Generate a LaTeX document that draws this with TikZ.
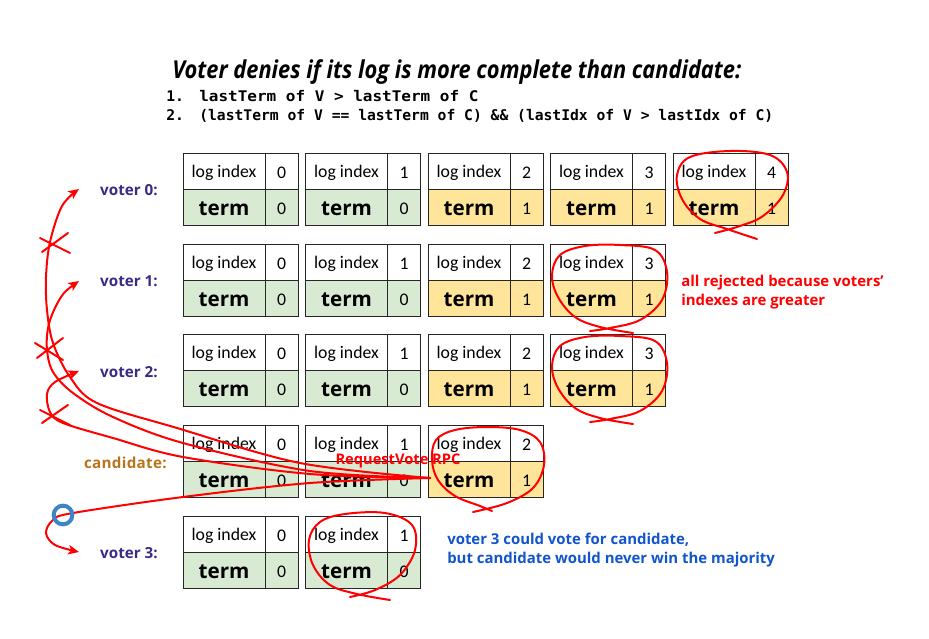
\documentclass[tikz,border=0pt]{standalone}
\usepackage{fontspec}
\setmainfont{Open Sans}
\newfontfamily\calib{Carlito}
\newfontfamily\monof{DejaVu Sans Mono}
\usetikzlibrary{arrows.meta}
\definecolor{tgreen}{HTML}{D9EAD3}
\definecolor{tyellow}{HTML}{FFE599}
\definecolor{vpurple}{HTML}{3B2A85}
\definecolor{corange}{HTML}{B8741A}
\definecolor{nblue}{HTML}{1155CC}
\definecolor{cblue}{HTML}{3D85C6}
\definecolor{rred}{HTML}{FF0000}
\tikzset{
  cellbase/.style={draw=black!85, line width=0.75pt, inner sep=0pt, outer sep=0pt, minimum height=27pt, anchor=north west},
  lcell/.style={cellbase, minimum width=61.5pt},
  rcell/.style={cellbase, minimum width=24.75pt},
  idxtext/.style={font=\calib\fontsize{13.3}{15}\selectfont},
  termtext/.style={font=\bfseries\fontsize{15.5}{17}\selectfont},
  numtext/.style={font=\calib\fontsize{13.3}{15}\selectfont},
  vlabel/.style={font=\bfseries\fontsize{11.4}{13}\selectfont, text=vpurple, anchor=east, inner sep=0pt},
  redline/.style={draw=rred, line width=1.5pt, line cap=round, line join=round},
  redarrow/.style={redline, -{Stealth[length=8pt,width=7pt,inset=2pt]}},
  loopline/.style={redline},
  codetext/.style={anchor=west, inner sep=0pt, font=\monof\bfseries\fontsize{11}{12}\selectfont},
  notetext/.style={anchor=west, inner sep=0pt, font=\bfseries\fontsize{11.2}{13}\selectfont},
}
\newcommand\lowtxt[1]{\raisebox{-1.3pt}[\height][\depth]{#1}}
\newcommand\logentry[6]{%
  \node[lcell, idxtext] (#1i) at (#2,#3) {\lowtxt{log index}};
  \node[rcell, numtext] (#1v) at (#1i.north east) {\lowtxt{#4}};
  \node[lcell, termtext, fill=#6] (#1t) at (#1i.south west) {\lowtxt{term}};
  \node[rcell, numtext, fill=#6] (#1n) at (#1t.north east) {\lowtxt{#5}};
}
\begin{document}
\begin{tikzpicture}[x=0.75pt, y=-0.75pt]
\useasboundingbox (0,0) rectangle (929,639);

% title and rules
\node[anchor=west, inner sep=0pt, font=\bfseries\itshape\fontsize{18.5}{20}\selectfont] (title) at (172,72)
  {\scalebox{0.885}[1]{Voter denies if its log is more complete than candidate:}};
\node[codetext] (r1) at (166,96)
  {1.\hspace{1.05em}\scalebox{1.09}[1]{lastTerm of V > lastTerm of C}};
\node[codetext] (r2) at (166,116)
  {2.\hspace{1.05em}(lastTerm of V == lastTerm of C) \&\& (lastIdx of V > lastIdx of C)};

% voter 0
\logentry{a0}{183}{153}{0}{0}{tgreen}
\logentry{a1}{305.5}{153}{1}{0}{tgreen}
\logentry{a2}{428}{153}{2}{1}{tyellow}
\logentry{a3}{550.5}{153}{3}{1}{tyellow}
\logentry{a4}{673}{153}{4}{1}{tyellow}
% voter 1
\logentry{b0}{183}{244}{0}{0}{tgreen}
\logentry{b1}{305.5}{244}{1}{0}{tgreen}
\logentry{b2}{428}{244}{2}{1}{tyellow}
\logentry{b3}{550.5}{244}{3}{1}{tyellow}
% voter 2
\logentry{c0}{183}{334.5}{0}{0}{tgreen}
\logentry{c1}{305.5}{334.5}{1}{0}{tgreen}
\logentry{c2}{428}{334.5}{2}{1}{tyellow}
\logentry{c3}{550.5}{334.5}{3}{1}{tyellow}
% candidate
\logentry{d0}{183}{425}{0}{0}{tgreen}
\logentry{d1}{305.5}{425}{1}{0}{tgreen}
\logentry{d2}{428}{425}{2}{1}{tyellow}
% voter 3
\logentry{e0}{183}{516}{0}{0}{tgreen}
\logentry{e1}{305.5}{516}{1}{0}{tgreen}

% labels
\node[vlabel] (lv0) at (158,190.5) {voter 0:};
\node[vlabel] (lv1) at (158,281.5) {voter 1:};
\node[vlabel] (lv2) at (158,372) {voter 2:};
\node[vlabel, text=corange] (lc) at (167,462.5) {\addfontfeatures{LetterSpace=2}candidate:};
\node[vlabel] (lv3) at (158,553.5) {voter 3:};

% red loops around last entries
\draw[loopline] plot[smooth, tension=0.6] coordinates {(757,239) (727,229) (700,219) (682,199) (677,175) (690,157) (730,151) (770,155) (787,172) (783,195) (763,216) (740,226) (715,233)};
\draw[loopline] plot[smooth, tension=0.6] coordinates {(633,333) (600,327) (575,317) (558,297) (552,275) (560,255) (585,246) (620,245) (655,250) (667,272) (662,300) (640,320) (610,328) (590,331)};
\draw[loopline] plot[smooth, tension=0.6] coordinates {(633,424) (600,418) (575,408) (558,388) (552,366) (560,346) (585,337) (620,336) (655,341) (667,363) (662,391) (640,411) (610,419) (590,422)};
\draw[loopline] plot[smooth, tension=0.6] coordinates {(492,511) (480,506) (455,496) (438,480) (432,460) (436,440) (455,430) (487,427) (520,430) (540,442) (544,465) (533,488) (507,503) (473,512)};
\draw[loopline] plot[smooth, tension=0.6] coordinates {(390,600) (357,594) (330,585) (313,565) (309,540) (320,522) (345,514) (385,513) (412,525) (415,550) (400,575) (375,590) (350,597)};

% request vote arrows
\coordinate (src) at (430,478);
\coordinate (t0) at (79,189);
\coordinate (t1) at (79,281);
\coordinate (t2) at (79,371);
\coordinate (t3) at (79,552);
\draw[redarrow] plot[smooth, tension=0.55] coordinates {(src) (300,463) (177,428) (97,403) (70,377) (53,343) (47,310) (46,277) (50,242) (62,206) (t0)};
\draw[redarrow] plot[smooth, tension=0.55] coordinates {(src) (310,471) (183,443) (113,417) (73,393) (53,372) (47,350) (48,328) (54,310) (64,293) (t1)};
\draw[redarrow] plot[smooth, tension=0.55] coordinates {(src) (310,474) (183,457) (113,438) (63,423) (50,412) (47,394) (55,382) (t2)};
\draw[redarrow] plot[smooth, tension=0.55] coordinates {(src) (310,483) (183,497) (73,513) (53,520) (46,533) (55,545) (t3)};

% rejection crosses
\draw[redline] (40,238) -- (70,253) (42,252) -- (68,233);
\draw[redline] (35,343) -- (63,360) (37,358) -- (63,338);
\draw[redline] (40,410) -- (70,425) (42,423) -- (68,405);

% accepted mark
\node[draw=cblue, line width=3pt, circle, minimum size=14pt, inner sep=0pt] (ok) at (63,515) {};

% red and blue notes
\node[anchor=center, inner sep=0pt, text=rred, font=\bfseries\fontsize{11}{13}\selectfont] (rpc) at (398,461) {RequestVote RPC};
\node[notetext, text=rred] (rej1) at (681,283) {all rejected because voters’};
\node[notetext, text=rred] (rej2) at (681,302) {indexes are greater};
\node[notetext, text=nblue] (n1) at (447,539.5) {voter 3 could vote for candidate,};
\node[notetext, text=nblue] (n2) at (447,559.5) {but candidate would never win the majority};
\end{tikzpicture}
\end{document}
